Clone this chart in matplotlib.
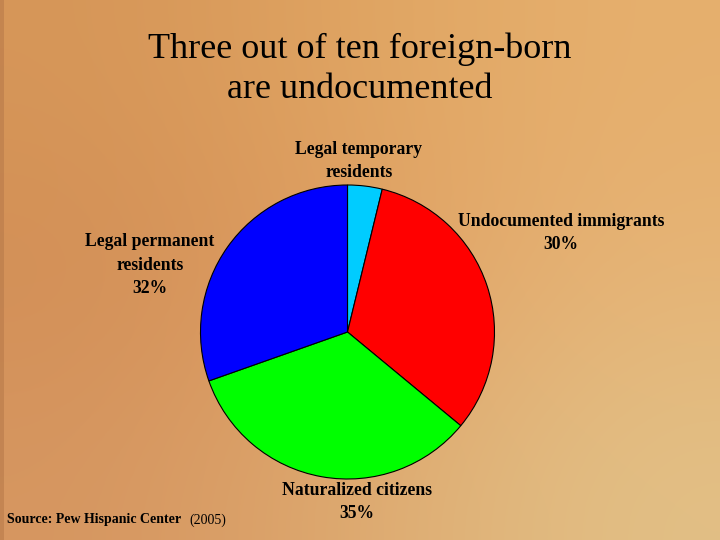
import numpy as np
import matplotlib
matplotlib.use("Agg")
import matplotlib.pyplot as plt

# shares as drawn in the reference (percent)
categories = ["Legal temporary residents", "Undocumented immigrants",
              "Naturalized citizens", "Legal permanent residents"]
shares = [3.8, 32.2, 33.6, 30.4]
colors = ["#00ccff", "#ff0000", "#00ff00", "#0000ff"]
label_texts = ["Legal temporary\nresidents",
               "Undocumented immigrants\n30%",
               "Naturalized citizens\n35%",
               "Legal permanent\nresidents\n32%"]

plt.rcParams["font.family"] = ["Liberation Serif", "DejaVu Serif"]

fig = plt.figure(figsize=(7.2, 5.4), dpi=100)
ax = fig.add_axes([0, 0, 1, 1])

# warm orange background gradient
bg = np.array([
    [[214, 150, 88], [224, 165, 98], [230, 176, 110]],
    [[210, 142, 86], [224, 158, 98], [230, 180, 118]],
    [[214, 150, 96], [222, 170, 112], [226, 192, 134]],
]) / 255.0
ax.imshow(bg, extent=[0, 720, 0, 540], interpolation="bicubic",
          aspect="auto", zorder=0)
ax.axvspan(0, 4, color="#b87a4a", alpha=0.6, lw=0, zorder=0.5)

ax.pie(shares, colors=colors, startangle=90, counterclock=False,
       center=(347.5, 540 - 332), radius=147, frame=True,
       wedgeprops=dict(edgecolor="black", linewidth=0.8))
ax.set_xlim(0, 720)
ax.set_ylim(0, 540)
ax.set_aspect("equal")
ax.axis("off")

label_pos = [(359, 540 - 161), (561, 540 - 233), (357, 540 - 502), (150, 540 - 265)]
for txt, (x, y) in zip(label_texts, label_pos):
    ax.text(x, y, txt, ha="center", va="center", fontsize=12.7,
            fontweight="bold", linespacing=1.5, color="black")

ax.text(360, 540 - 69, "Three out of ten foreign-born\nare undocumented",
        ha="center", va="center", fontsize=26, linespacing=1.3,
        color="black")

ax.text(7, 540 - 520, "Source: Pew Hispanic Center", ha="left",
        va="center", fontsize=10, fontweight="bold")
ax.text(189, 540 - 520, "(2005)", ha="left", va="center", fontsize=10)

fig.savefig("out.png", dpi=100)
